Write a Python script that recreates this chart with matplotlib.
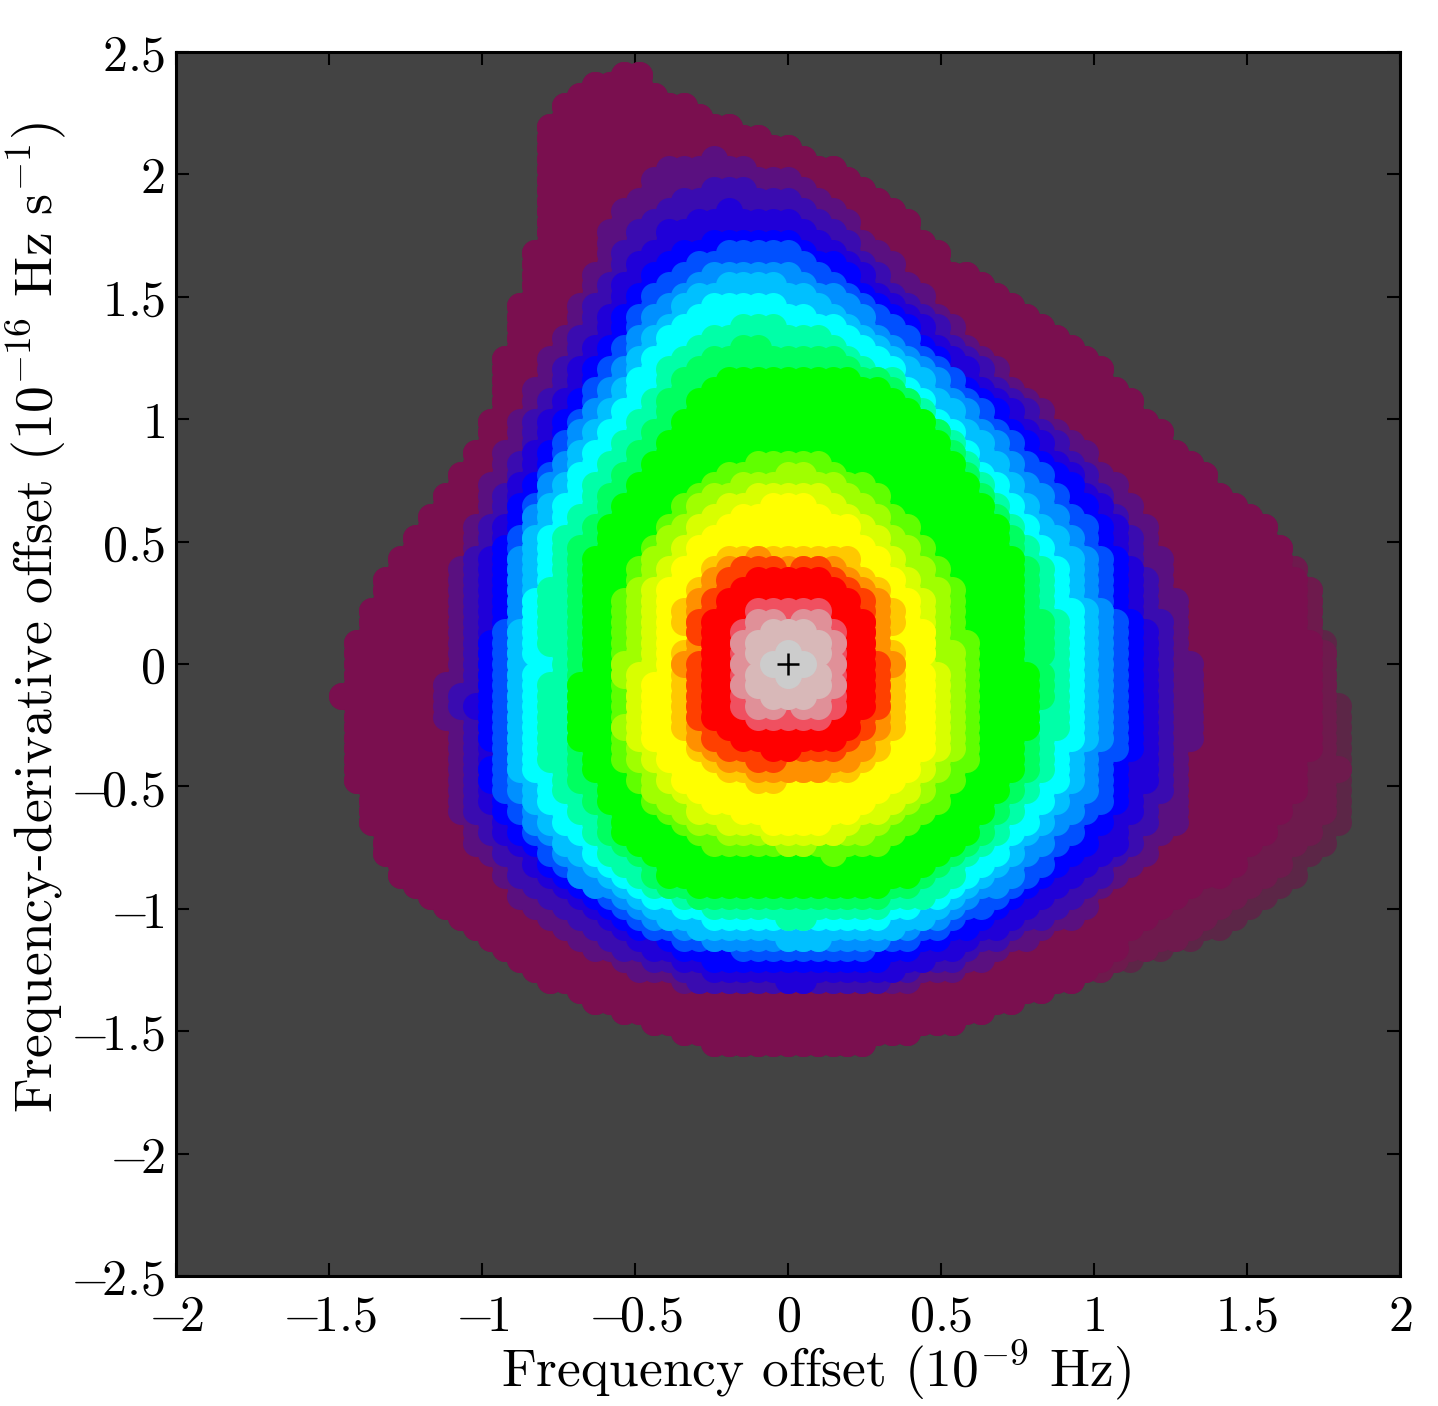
import numpy as np
import matplotlib
matplotlib.use("Agg")
import matplotlib.pyplot as plt
from matplotlib.path import Path

plt.rcParams['mathtext.fontset'] = 'cm'

xticks = [-2, -1.5, -1, -0.5, 0, 0.5, 1, 1.5, 2]
xticklabels = ['$-\\!2$', '$-\\!1.5$', '$-\\!1$', '$-\\!0.5$', '$0$', '$0.5$', '$1$', '$1.5$', '$2$']
yticks = [-2.5, -2, -1.5, -1, -0.5, 0, 0.5, 1, 1.5, 2, 2.5]
yticklabels = ['$-\\!2.5$', '$-\\!2$', '$-\\!1.5$', '$-\\!1$', '$-\\!0.5$', '$0$', '$0.5$', '$1$', '$1.5$', '$2$', '$2.5$']

# rim of the cloud, bottom -> left -> top -> upper right
rim = [(0.99, -1.27), (0.69, -1.41), (0.37, -1.52), (0.24, -1.56), (-0.22, -1.56), (-0.55, -1.43),
       (-0.88, -1.23), (-1.10, -1.03), (-1.30, -0.84), (-1.45, -0.39), (-1.46, -0.11), (-1.41, 0.10),
       (-1.30, 0.38), (-1.14, 0.67), (-0.97, 1.00), (-0.91, 1.34), (-0.83, 1.69), (-0.785, 1.77),
       (-0.785, 2.18), (-0.71, 2.32), (-0.58, 2.41), (-0.48, 2.41), (-0.40, 2.32), (-0.29, 2.26),
       (-0.06, 2.14), (0.14, 2.04), (0.37, 1.85), (0.53, 1.63), (0.69, 1.53), (0.95, 1.30),
       (1.12, 1.08), (1.35, 0.79)]
# lower right side differs for the three darkest shades
side_outer = [(1.58, 0.55), (1.71, 0.30), (1.80, -0.15), (1.84, -0.23), (1.84, -0.43), (1.80, -0.68),
              (1.64, -0.90), (1.44, -1.07), (1.22, -1.17)]
side_mid = [(1.58, 0.55), (1.71, 0.30), (1.78, -0.15), (1.80, -0.43), (1.74, -0.66), (1.58, -0.86),
            (1.40, -1.03), (1.20, -1.16)]
side_main = [(1.58, 0.55), (1.68, 0.30), (1.72, -0.10), (1.70, -0.40), (1.62, -0.62), (1.48, -0.80),
             (1.28, -0.97), (1.08, -1.15)]
rim_colors = ['#5c2647', '#6e1a4d', '#7a0f4f']

# inner levels: distance from the centre to the edge of each colour band, per direction
angles = [0, 15, 30, 60, 75, 90, 105, 120, 150, 165, 180, 195, 210, 240, 270, 300, 330, 345]
level_colors = ['#5a1080', '#3a0cb0', '#2000d8', '#0000ff', '#0050ff', '#0090ff', '#00c0ff', '#00ffff',
                '#00ffa8', '#00ff60', '#00ff00', '#60ff00', '#a0ff00', '#d8ff00', '#ffff00', '#ffc800',
                '#ff9000', '#ff4000', '#ff0000', '#f05060', '#e09098', '#d8b8b8', '#cccccc']
level_radii = [
    [1.36, 1.31, 1.26, 1.25, 1.39, 1.63, 1.71, 1.41, 1.18, 1.16, 1.16, 1.19, 1.23, 1.17, 1.11, 1.19, 1.37, 1.39],
    [1.28, 1.25, 1.22, 1.21, 1.33, 1.56, 1.60, 1.35, 1.13, 1.12, 1.11, 1.14, 1.18, 1.13, 1.10, 1.15, 1.31, 1.32],
    [1.22, 1.21, 1.18, 1.18, 1.29, 1.49, 1.52, 1.29, 1.09, 1.07, 1.06, 1.09, 1.13, 1.08, 1.08, 1.12, 1.26, 1.26],
    [1.17, 1.17, 1.15, 1.14, 1.26, 1.43, 1.44, 1.24, 1.06, 1.03, 1.02, 1.05, 1.09, 1.04, 1.04, 1.08, 1.19, 1.20],
    [1.12, 1.13, 1.10, 1.12, 1.22, 1.39, 1.39, 1.19, 1.03, 0.99, 0.97, 1.02, 1.06, 1.02, 0.98, 1.05, 1.14, 1.15],
    [1.07, 1.09, 1.05, 1.09, 1.18, 1.32, 1.33, 1.15, 1.01, 0.96, 0.95, 0.98, 1.03, 1.00, 0.95, 1.02, 1.08, 1.10],
    [1.02, 1.04, 1.00, 1.05, 1.14, 1.28, 1.28, 1.11, 0.98, 0.94, 0.92, 0.95, 1.00, 0.97, 0.94, 0.99, 1.03, 1.05],
    [0.97, 0.99, 0.95, 1.00, 1.10, 1.21, 1.24, 1.07, 0.94, 0.90, 0.87, 0.91, 0.95, 0.93, 0.90, 0.95, 0.99, 1.00],
    [0.92, 0.94, 0.92, 0.98, 1.06, 1.14, 1.15, 1.00, 0.89, 0.85, 0.82, 0.85, 0.90, 0.90, 0.87, 0.92, 0.94, 0.95],
    [0.87, 0.89, 0.89, 0.96, 1.03, 1.07, 1.08, 0.93, 0.83, 0.79, 0.77, 0.79, 0.83, 0.87, 0.83, 0.89, 0.90, 0.89],
    [0.82, 0.84, 0.86, 0.95, 1.00, 1.00, 1.00, 0.86, 0.78, 0.74, 0.72, 0.75, 0.78, 0.84, 0.79, 0.85, 0.86, 0.85],
    [0.63, 0.64, 0.63, 0.67, 0.69, 0.72, 0.70, 0.69, 0.63, 0.60, 0.59, 0.61, 0.67, 0.69, 0.66, 0.71, 0.71, 0.68],
    [0.58, 0.59, 0.59, 0.62, 0.65, 0.67, 0.65, 0.64, 0.60, 0.58, 0.58, 0.59, 0.64, 0.65, 0.63, 0.66, 0.66, 0.63],
    [0.53, 0.54, 0.54, 0.57, 0.60, 0.62, 0.60, 0.59, 0.56, 0.54, 0.53, 0.55, 0.60, 0.61, 0.60, 0.62, 0.62, 0.58],
    [0.48, 0.50, 0.50, 0.52, 0.55, 0.57, 0.56, 0.54, 0.51, 0.49, 0.48, 0.50, 0.56, 0.56, 0.57, 0.58, 0.57, 0.52],
    [0.39, 0.39, 0.44, 0.44, 0.43, 0.42, 0.43, 0.45, 0.44, 0.39, 0.39, 0.40, 0.46, 0.46, 0.42, 0.45, 0.45, 0.40],
    [0.39, 0.37, 0.41, 0.41, 0.40, 0.38, 0.40, 0.42, 0.42, 0.37, 0.39, 0.38, 0.43, 0.42, 0.39, 0.42, 0.42, 0.38],
    [0.34, 0.34, 0.37, 0.38, 0.37, 0.35, 0.37, 0.39, 0.38, 0.34, 0.34, 0.35, 0.39, 0.39, 0.35, 0.38, 0.38, 0.35],
    [0.29, 0.30, 0.33, 0.34, 0.33, 0.32, 0.33, 0.34, 0.33, 0.30, 0.29, 0.31, 0.35, 0.34, 0.32, 0.33, 0.33, 0.31],
    [0.20, 0.20, 0.24, 0.25, 0.23, 0.22, 0.23, 0.25, 0.24, 0.20, 0.20, 0.21, 0.24, 0.25, 0.22, 0.25, 0.24, 0.21],
    [0.19, 0.19, 0.22, 0.22, 0.20, 0.18, 0.20, 0.22, 0.22, 0.19, 0.19, 0.19, 0.22, 0.22, 0.18, 0.22, 0.22, 0.19],
    [0.14, 0.14, 0.17, 0.17, 0.16, 0.15, 0.16, 0.17, 0.17, 0.15, 0.14, 0.15, 0.17, 0.17, 0.15, 0.17, 0.17, 0.15],
    [0.10, 0.10, 0.10, 0.10, 0.10, 0.10, 0.10, 0.10, 0.10, 0.10, 0.10, 0.10, 0.10, 0.10, 0.10, 0.10, 0.10, 0.10],
]

W, H = 1438, 1406
fig = plt.figure(figsize=(W / 100, H / 100), dpi=100)
ax = fig.add_axes([176 / W, (H - 1276) / H, 1224 / W, 1224 / H])
ax.set_facecolor('#434343')

# the search grid of the original scan
gx, gy = np.meshgrid(np.arange(-42, 43) * 0.0486, np.arange(-60, 61) * 0.043)
grid = np.column_stack([gx.ravel(), gy.ravel()])
msize = (27 * 0.72) ** 2
dot_r = 13.5 / 306


def draw_path(path, color, z):
    inside = grid[path.contains_points(grid)]
    ax.scatter(inside[:, 0], inside[:, 1], s=msize, c=color, linewidths=0, zorder=z)


def smooth_path(pts):
    # closed bezier through the read contour points
    pts = np.array(pts)
    n = len(pts)
    verts = [pts[0]]
    codes = [Path.MOVETO]
    for k in range(n):
        p0, p1, p2, p3 = pts[k - 1], pts[k], pts[(k + 1) % n], pts[(k + 2) % n]
        verts += [p1 + (p2 - p0) / 6, p2 - (p3 - p1) / 6, p2]
        codes += [Path.CURVE4] * 3
    return Path(verts, codes)


for i, side in enumerate([side_outer, side_mid, side_main]):
    poly = rim + side
    draw_path(Path(poly + [poly[0]]), rim_colors[i], 2 + i)

th = np.radians(angles)
for i, radii in enumerate(level_radii):
    r = np.array(radii) - dot_r
    # y axis has 245 px per unit against 306 for x
    pts = np.column_stack([r * np.cos(th), r * np.sin(th) * 1.25])
    draw_path(smooth_path(pts), level_colors[i], 5 + i)

ax.plot([0], [0], marker='+', color='k', ms=16, mew=1.8, zorder=50)

ax.set_xlim(-2, 2)
ax.set_ylim(-2.5, 2.5)
ax.set_xticks(xticks)
ax.set_xticklabels(xticklabels)
ax.set_yticks(yticks)
ax.set_yticklabels(yticklabels)
ax.tick_params(direction='in', top=True, right=True, length=9.5, width=1.5, labelsize=36, zorder=60)
ax.tick_params(axis='x', pad=12)
ax.tick_params(axis='y', pad=8)
for s in ax.spines.values():
    s.set_linewidth(2.2)
    s.set_zorder(60)

fig.text(816 / W, 1 - 1371 / H, 'Frequency offset (10$^{-9}$ Hz)', fontsize=38.5, family='cmr10',
         ha='center', va='center')
fig.text(37 / W, 1 - 618 / H, 'Frequency-derivative offset (10$^{-16}$ Hz s$^{-1}$)', fontsize=38.5,
         family='cmr10', rotation=90, ha='center', va='center')

fig.savefig('out.png', dpi=100)
